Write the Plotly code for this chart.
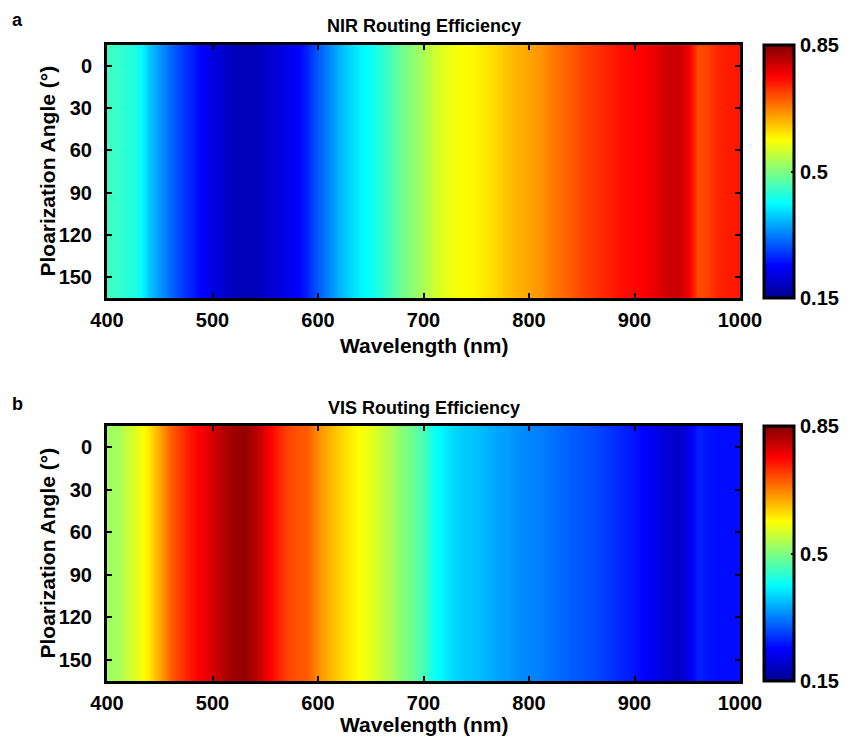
import plotly.graph_objects as go

wavelength = list(range(400, 1001, 10))
angles = [0, 30, 60, 90, 120, 150]

nir_eff = [0.455, 0.45, 0.44, 0.425, 0.375, 0.34, 0.31, 0.28, 0.26, 0.235,
           0.215, 0.20, 0.185, 0.18, 0.185, 0.195, 0.205, 0.22, 0.235, 0.26,
           0.30, 0.33, 0.36, 0.385, 0.405, 0.42, 0.44, 0.465, 0.49, 0.51,
           0.53, 0.555, 0.57, 0.58, 0.59, 0.595, 0.605, 0.615, 0.63, 0.64,
           0.65, 0.66, 0.675, 0.69, 0.70, 0.715, 0.725, 0.735, 0.745, 0.755,
           0.76, 0.765, 0.78, 0.795, 0.80, 0.78, 0.71, 0.72, 0.74, 0.745, 0.745]

vis_eff = [0.52, 0.525, 0.55, 0.575, 0.605, 0.65, 0.695, 0.725, 0.75, 0.77,
           0.79, 0.815, 0.83, 0.835, 0.815, 0.78, 0.745, 0.72, 0.705, 0.70,
           0.665, 0.64, 0.62, 0.60, 0.585, 0.57, 0.55, 0.53, 0.505, 0.485,
           0.46, 0.42, 0.40, 0.385, 0.375, 0.37, 0.36, 0.35, 0.345, 0.335,
           0.33, 0.325, 0.315, 0.31, 0.30, 0.295, 0.29, 0.28, 0.27, 0.26,
           0.25, 0.235, 0.22, 0.205, 0.195, 0.215, 0.26, 0.25, 0.245, 0.245, 0.245]

x_ticks = [400, 500, 600, 700, 800, 900, 1000]
y_ticks = [0, 30, 60, 90, 120, 150]
cbar_ticks = [0.15, 0.5, 0.85]

jet = [[0.0, 'rgb(0,0,143)'], [0.125, 'rgb(0,0,255)'], [0.375, 'rgb(0,255,255)'],
       [0.625, 'rgb(255,255,0)'], [0.875, 'rgb(255,0,0)'], [1.0, 'rgb(128,0,0)']]

W, H = 850, 738
FONT = "Liberation Sans, Arial, sans-serif"

def px_x(p):
    return p / W

def px_y(p):
    return 1 - p / H

panels = [
    dict(z=nir_eff, top=45, bottom=298, title="NIR Routing Efficiency", label="a", label_y=20,
         title_y=26, xtitle_y=345),
    dict(z=vis_eff, top=426, bottom=681, title="VIS Routing Efficiency", label="b", label_y=404,
         title_y=408, xtitle_y=724),
]

L, R = 107, 740
fig = go.Figure()
annotations = []
for i, p in enumerate(panels):
    ax = "" if i == 0 else str(i + 1)
    zz = [list(p["z"]) for _ in angles]
    fig.add_trace(go.Heatmap(
        x=wavelength, y=angles, z=zz, zmin=0.15, zmax=0.85, zsmooth="best",
        colorscale=jet, xaxis="x" + ax, yaxis="y" + ax,
        colorbar=dict(x=px_x(764), xanchor="left", xpad=0, ypad=0,
                      y=px_y((p["top"] + p["bottom"]) / 2), yanchor="middle",
                      len=p["bottom"] - p["top"], lenmode="pixels",
                      thickness=30, outlinewidth=3, outlinecolor="black",
                      tickvals=cbar_ticks, ticktext=["0.15", "0.5", "0.85"],
                      ticks="inside", ticklen=4, tickwidth=2, tickcolor="black",
                      tickfont=dict(family=FONT, size=20, color="black", weight="bold")),
    ))
    axis_common = dict(showline=True, linewidth=3, linecolor="black", mirror="ticks",
                       ticks="inside", ticklen=5, tickwidth=2, tickcolor="black",
                       showgrid=False, zeroline=False,
                       tickfont=dict(family=FONT, size=20, color="black", weight="bold"))
    fig.update_layout(**{
        "xaxis" + ax: dict(domain=[px_x(L), px_x(R)], range=[400, 1000], tickvals=x_ticks,
                           anchor="y" + ax, ticklabelstandoff=2, **axis_common),
        "yaxis" + ax: dict(domain=[px_y(p["bottom"]), px_y(p["top"])], range=[165, -15],
                           tickvals=y_ticks, anchor="x" + ax, ticklabelstandoff=8, **axis_common),
    })
    annotations += [
        dict(text=p["title"], x=px_x((L + R) / 2), y=px_y(p["title_y"]), xref="paper", yref="paper",
             showarrow=False, xanchor="center", yanchor="middle",
             font=dict(family=FONT, size=18, color="black", weight="bold")),
        dict(text=p["label"], x=px_x(10), y=px_y(p["label_y"]), xref="paper", yref="paper",
             showarrow=False, xanchor="left", yanchor="middle",
             font=dict(family=FONT, size=18, color="black", weight="bold")),
        dict(text="Wavelength (nm)", x=px_x((L + R) / 2), y=px_y(p["xtitle_y"]), xref="paper", yref="paper",
             showarrow=False, xanchor="center", yanchor="middle",
             font=dict(family=FONT, size=21, color="black", weight="bold")),
        dict(text="Ploarization Angle (°)", x=px_x(47), y=px_y((p["top"] + p["bottom"]) / 2),
             xref="paper", yref="paper", textangle=-90,
             showarrow=False, xanchor="center", yanchor="middle",
             font=dict(family=FONT, size=21, color="black", weight="bold")),
    ]

fig.update_layout(width=W, height=H, margin=dict(l=0, r=0, t=0, b=0, autoexpand=False),
                  paper_bgcolor="white", plot_bgcolor="white",
                  annotations=annotations, showlegend=False)
fig.write_html("out.html")
